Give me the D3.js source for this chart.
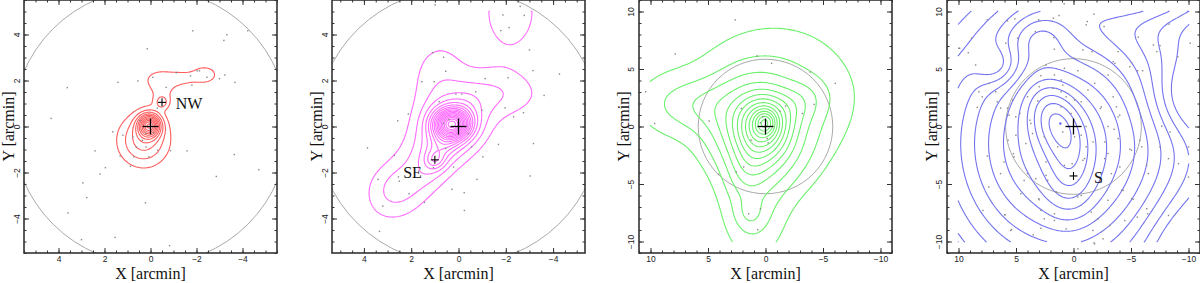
<!DOCTYPE html>
<html>
<head>
<meta charset="utf-8">
<script src="https://cdn.jsdelivr.net/npm/d3@7"></script>
<style>
  body { margin: 0; background: #fff; }
  svg { display: block; }
</style>
</head>
<body>
<script>
// ---------------- data (arcmin) ----------------
// density components: [x, y, sigmaU, sigmaV, angleDeg, amplitude]
const comps1 = [
  [0.05, 0.05, 0.32, 0.33, 0, 9],
  [0.3, -0.6, 0.74, 0.76, 0, 3.5],
  [-0.5, 1.05, 0.2, 0.2, 0, 2.0],
  [-0.5, 1.75, 0.5, 0.55, 0, 1.35],
  [-0.25, 2.05, 0.35, 0.22, 0, 0.7],
  [-1.3, 2.1, 0.45, 0.22, 0, 1.25],
  [-2.35, 2.25, 0.48, 0.33, 0, 1.5]
];
const levels1 = [1, 2, 3, 4, 5, 6, 7, 8, 9, 10, 11, 12];

const comps2 = [
  [0.28, 0.12, 0.5, 0.42, 0, 11],
  [0.3, 0.1, 0.9, 0.8, 0, 2.5],
  [0.9, -0.9, 2.1, 0.85, -50, 2.6],
  [1.0, -1.45, 0.28, 0.28, 0, 2.0],
  [0.6, -0.7, 1.1, 0.4, -62, 2.0],
  [0.8, 2.0, 0.9, 1.35, 0, 1.55],
  [-1.9, 1.4, 1.25, 0.75, 0, 1.45],
  [2.8, -2.8, 0.8, 0.8, 0, 1.3],
  [-2.2, 5.0, 0.93, 1.34, 0, 1.6]
];
const levels2 = [1, 2, 3, 4, 5, 6, 7, 8, 9, 10, 11, 12, 13, 14, 15, 16, 17, 18];

const comps3 = [
  [0.0, 0.35, 0.6, 0.7, 0, 3],
  [0.2, 0.2, 1.4, 1.6, 0, 5],
  [0.8, -0.8, 2.6, 3.2, -25, 4.5],
  [-1.0, 2.5, 5.0, 4.5, 0, 2.4],
  [-2.8, 2.0, 1.8, 1.2, -20, 1.2],
  [1.5, -3.5, 1.2, 2.0, 20, 1.2],
  [8.5, 2.0, 2.5, 2.1, 0, 1.4],
  [5.5, 1.8, 2.0, 1.5, 0, 0.8],
  [1.0, -8.0, 2.0, 3.0, 0, 1.8],
  [1.4, -7.6, 0.9, 1.0, 0, 1.0]
];
const levels3 = [1, 2, 3, 4, 5, 6, 7, 8, 9, 10, 11, 12, 13, 14, 15, 16, 17];

const comps4 = [
  [1.5, 0.5, 1.5, 2.4, -25, 3.5],
  [1.0, -1.5, 8.0, 9.0, 0, 11],
  [0.3, -4.5, 1.5, 2.5, 0, 1.8],
  [-10.5, 2.5, 2.5, 2.2, 0, -2.5],
  [-6.5, 12.0, 5.0, 1.8, 0, 5],
  [6.7, 5.3, 1.3, 1.2, 0, -2],
  [3.0, 8.0, 1.8, 1.5, 0, 2],
  [-10.5, -10.5, 3.0, 3.0, 0, -2]
];
const levels4 = [3, 4, 5, 6, 7, 8, 9, 10, 11, 12, 13, 14];

// galaxies
const dots1 = [[-1.84,4.16],[-3.32,3.99],[-4.23,4.16],[0.14,3.38],[-3.19,3.74],[1.42,1.92],[0.55,1.98],[-0.1,2.14],[-0.68,1.70],[-1.12,2.34],[-1.74,2.2],[-2.03,2.42],[-2.13,2.42],[-2.45,2.14],[-1.8,1.8],[-3.0,2.08],[-3.23,2.24],[-3.67,1.92],[3.62,1.69],[4.32,0.35],[1.64,-0.23],[1.2,-0.38],[0.77,-0.45],[-0.14,-0.28],[0.19,-0.89],[0.62,-0.89],[-0.32,-1.03],[-0.87,-1.05],[-1.59,-1.06],[2.41,-1.06],[1.32,-1.28],[0.72,-1.32],[0.07,-1.32],[0.87,-1.73],[1.96,-1.79],[2.19,-2.07],[-3.64,-1.22],[-4.71,-1.88],[-2.86,-2.17],[2.94,-2.45],[2.77,-3.09],[0.22,-3.32],[3.59,-3.76],[1.54,-4.82],[3.0,-4.92],[-0.83,-5.18],[0.45,0.25],[0.2,-0.3],[0.35,-0.6],[-0.3,0.8]];
const dots2 = [[0.99,5.29],[-1.88,4.85],[-2.78,4.83],[-1.79,4.17],[-2.14,4.3],[-2.61,5.22],[-3.0,3.33],[1.09,3.21],[0.63,3.01],[0.54,2.4],[-3.15,2.43],[-4.27,2.28],[1.55,1.95],[1.03,1.95],[-1.13,2.08],[-2.1,2.12],[-3.62,1.35],[0.11,1.41],[-0.14,1.41],[-0.73,1.51],[0.82,1.08],[-0.99,0.71],[-1.97,0.81],[-2.33,0.42],[-2.75,0.6],[2.12,0.54],[2.57,0.25],[0.63,0.13],[0.4,0.3],[-0.42,-0.31],[-0.56,-0.89],[-1.69,-0.78],[-3.17,-0.74],[3.85,-0.93],[-1.03,-1.32],[2.71,-1.26],[0.54,-0.96],[1.06,-1.79],[0.21,-1.76],[-3.03,-2.15],[-0.78,-2.3],[2.54,-2.19],[2.5,-2.38],[3.4,-2.3],[2.09,-2.92],[0.28,-2.73],[-0.24,-2.88],[1.44,-3.3],[3.2,-3.46],[-0.25,-3.65],[3.34,-4.56]];
const dots3 = [[2.63,9.27],[7.85,6.31],[0.73,6.13],[-0.53,5.49],[-3.88,4.74],[-6.07,3.75],[10.42,3.02],[-4.23,1.92],[9.64,0.26],[4.9,0.47],[2.1,1.57],[-1.75,1.77],[-1.26,1.34],[-3.21,1.13],[0.23,0.84],[0.44,0.32],[-0.15,-1.05],[-0.23,-1.42],[1.26,-1.19],[1.9,-3.52],[2.54,-3.95],[4.09,-4.16],[1.46,-7.59],[0.44,-7.15],[0.67,-8.98]];
const dots4 = [[7.49,9.28],[8.86,7.68],[9.97,6.8],[9.15,6.42],[5.74,9.19],[5.1,9.36],[3.03,9.28],[1.75,9.42],[1.25,9.65],[0.81,10.67],[3.32,8.25],[4.86,7.68],[1.71,7.73],[5.89,7.24],[1.66,6.72],[8.51,5.35],[7.34,3.75],[8.22,3.02],[6.76,3.02],[7.93,2.58],[8.37,1.66],[5.3,2.3],[6.33,1.6],[5.74,1.6],[5.6,0.99],[2.83,4.42],[2.39,5.35],[1.08,4.04],[0.79,5.06],[1.8,3.32],[0.93,3.6],[0.64,2.58],[1.08,1.71],[3.11,2.23],[4.66,1.13],[3.79,0.55],[0.2,1.13],
  [-1.78,9.77],[-1.2,9.13],[-1.11,8.84],[-2.66,8.69],[-8.31,8.9],[-5.63,7.77],[-3.88,6.51],[-6.95,7.09],[-7.52,7.03],[-7.24,6.51],[-9.07,6.07],[-10.15,7.24],[-1.61,6.51],[-3.45,5.64],[-5.05,5.55],[-4.9,5.2],[-5.57,4.85],[-6.01,4.85],[-10.88,4.1],[-0.38,4.85],[-1.84,3.75],[-3.01,4.48],[-3.45,2.58],[-3.74,1.71],[-2.42,1.71],[-4.02,0.99],[-7.67,0.03],[-0.67,2.15],
  [7.49,-2.57],[7.87,-7.3],[5.98,-7.68],[5.39,-8.96],[3.5,-9.42],[2.83,-8.85],[2.54,-8.03],[2.39,-4.25],[1.51,-5.71],[0.79,-3.38],[3.03,-6.28],[1.66,-7.59],[0.64,-8.9],[5.01,-0.76],[4.14,-1.48],[2.39,-3.09],[0.93,-0.47],[5.22,-2.36],[4.29,-4.69],[6.04,-3.09],
  [-0.67,-0.76],[-1.7,-1.34],[-3.53,-0.24],[-3.88,-1.05],[-4.9,-1.98],[-5.77,-1.2],[-7.52,-1.78],[-8.4,-0.47],[-10.0,-1.78],[-9.13,-3.23],[-10.0,-4.4],[-4.32,-5.56],[-5.2,-6.34],[-6.45,-7.59],[-8.26,-7.74],[-4.46,-8.18],[-3.15,-8.61],[-2.57,-9.77],[-1.78,-10.12],[-2.71,-2.79],[-0.67,-6.0],[-1.55,-7.45],[-0.96,-2.79],[-6.36,-3.38],
  [6.63,2.15],[4.0,2.59],[2.98,3.46],[3.71,0.26],[3.56,-0.61],[2.54,-0.9],[1.37,-1.77],[-0.09,-0.9],[-1.1,0],[-1.1,-1.77],[-3.0,0],[-3.88,0.84],[-2.72,-1.34],[-3.0,-2.35],[-4.03,-3.52],[-4.18,-5.55],[-5.05,-6.28],[-6.51,-4.1],[-5.93,-1.77],[-8.26,-2.79],[-6.37,-7.15],[-5.55,-7.88],[-3.0,-6.42],[-2.13,-8.02],[-1.69,-9.04],[-1.84,-10.2],[-0.38,-10.64],[5.46,-9.04],[5.96,-7.67],[4.58,-5.84],[2.98,-6.37],[3.27,-4.53],[2.25,-4.68],[1.52,-5.7],[0.12,-3.23],[-0.82,-2.94],[5.17,-2.65],[5.69,-1.19],[5.02,0.84],[2.83,-7.3],[1.66,-8.17],[-0.38,-6.13],[4.0,-4.1],[6.34,-4.1],[7.36,-5.26],[-3.3,-4.1],[-2.42,-4.83],[-5.05,-2.06],[-0.09,2.3],[-1.26,3.17],[-2.34,1.57],[1.66,4.48],[1.08,3.02],[-0.09,5.93],[-0.82,6.66],[-3.6,5.49],[9.9,6.8]];
const blueDots4 = [[1.14, 0.26]];

// markers: [x, y, big?]
const crosses1 = [[0, 0, 1], [-0.5, 1.05, 0]];
const crosses2 = [[0, 0, 1], [1.0, -1.45, 0]];
const crosses3 = [[0, 0, 1]];
const crosses4 = [[0, 0, 1], [0, -4.3, 0]];
const names1 = [["NW", -1.1, 1.02]];
const names2 = [["SE", 2.34, -2.0]];
const names3 = [];
const names4 = [["S", -1.78, -4.42]];

const circleR = [6.0, 6.0, 5.85, 5.9];
const majorSmall = [-4, -2, 0, 2, 4];
const majorLarge = [-10, -5, 0, 5, 10];

// ---------------- layout ----------------
const W = 1200, H = 283, S = 253;
const panels = [
  { left: 24, xd: [5.5, -5.5], yd: [-5.5, 5.5], grid: [-5, 5], comps: comps1, levels: levels1, color: "#ff5c5c",
    dots: dots1, crosses: crosses1, names: names1, major: majorSmall, minor: d3.range(-5.5, 5.51, 0.5), r: circleR[0], lab: 4 },
  { left: 332, xd: [5.35, -5.35], yd: [-5.5, 5.5], grid: [-5, 5], comps: comps2, levels: levels2, color: "#ff6cff",
    dots: dots2, crosses: crosses2, names: names2, major: majorSmall, minor: d3.range(-5, 5.01, 0.5), r: circleR[1], lab: 4 },
  { left: 639, xd: [11, -11], yd: [-11, 11], grid: [-10, 10], comps: comps3, levels: levels3, color: "#6cf06c",
    dots: dots3, crosses: crosses3, names: names3, major: majorLarge, minor: d3.range(-11, 11.01, 1), r: circleR[2], lab: 5 },
  { left: 947, xd: [11, -11], yd: [-11, 11], grid: [-10, 10], comps: comps4, levels: levels4, color: "#7474f0",
    dots: dots4, crosses: crosses4, names: names4, major: majorLarge, minor: d3.range(-11, 11.01, 1), r: circleR[3], lab: 5 }
];

const svg = d3.select("body").append("svg").attr("width", W).attr("height", H);

function field(comps, x, y) {
  let v = 0;
  for (const [cx, cy, su, sv, ang, a] of comps) {
    const t = ang * Math.PI / 180, c = Math.cos(t), s = Math.sin(t);
    const dx = x - cx, dy = y - cy;
    const u = dx * c + dy * s, w = -dx * s + dy * c;
    v += a * Math.exp(-0.5 * (u * u / (su * su) + w * w / (sv * sv)));
  }
  return v;
}

// split a closed ring where it runs along the grid border, so open contours stay open
function splitRing(ring, n) {
  const onEdge = (a, b) => (a[0] <= 0 && b[0] <= 0) || (a[0] >= n && b[0] >= n) ||
                           (a[1] <= 0 && b[1] <= 0) || (a[1] >= n && b[1] >= n);
  const m = ring.length - 1;
  let start = -1;
  for (let k = 0; k < m; k++) if (onEdge(ring[k], ring[k + 1])) { start = k + 1; break; }
  if (start < 0) return [ring];
  const pieces = [];
  let cur = [ring[start % m]];
  for (let t = 0; t < m; t++) {
    const a = ring[(start + t) % m], b = ring[(start + t + 1) % m];
    if (onEdge(a, b)) { if (cur.length > 1) pieces.push(cur); cur = [b]; }
    else cur.push(b);
  }
  if (cur.length > 1) pieces.push(cur);
  return pieces;
}

panels.forEach((p, idx) => {
  const x = d3.scaleLinear().domain(p.xd).range([0, S]);
  const y = d3.scaleLinear().domain(p.yd).range([S, 0]);
  const g = svg.append("g").attr("transform", `translate(${p.left},0)`);

  g.append("clipPath").attr("id", "clip" + idx)
    .append("rect").attr("width", S).attr("height", S);
  const plot = g.append("g").attr("clip-path", `url(#clip${idx})`);

  // field circle
  plot.append("ellipse")
    .attr("cx", x(0)).attr("cy", y(0))
    .attr("rx", Math.abs(x(p.r) - x(0))).attr("ry", Math.abs(y(p.r) - y(0)))
    .attr("fill", "none").attr("stroke", "#aaa").attr("stroke-width", 1);

  // contours
  const n = 181;
  const [g0, g1] = p.grid;
  const step = (g1 - g0) / (n - 1);
  const values = new Float64Array(n * n);
  for (let j = 0; j < n; j++)
    for (let i = 0; i < n; i++)
      values[j * n + i] = field(p.comps, g0 + i * step, g0 + j * step);
  const toData = c => g0 + (c - 0.5) * step;
  const line = d3.line().x(d => x(toData(d[0]))).y(d => y(toData(d[1])));
  const contours = d3.contours().size([n, n]).thresholds(p.levels)(values);
  const pieces = [];
  contours.forEach(c => c.coordinates.forEach(poly => poly.forEach(ring => {
    splitRing(ring, n).forEach(pc => pieces.push(pc));
  })));
  plot.append("g").selectAll("path").data(pieces).join("path")
    .attr("d", line)
    .attr("fill", "none").attr("stroke", p.color).attr("stroke-width", 1.1);

  // galaxies
  plot.append("g").selectAll("rect").data(p.dots).join("rect")
    .attr("x", d => x(d[0]) - 0.7).attr("y", d => y(d[1]) - 0.7)
    .attr("width", 1.4).attr("height", 1.4).attr("fill", "#888");
  if (idx === 3) {
    plot.append("g").selectAll("rect").data(blueDots4).join("rect")
      .attr("x", d => x(d[0]) - 1).attr("y", d => y(d[1]) - 1)
      .attr("width", 2).attr("height", 2).attr("fill", "#4444ff");
  }

  // crosses
  const cr = plot.append("g").attr("stroke", "#000");
  p.crosses.forEach(([cx, cy, big]) => {
    const a = big ? 8 : 4;
    cr.append("line").attr("x1", x(cx) - a).attr("x2", x(cx) + a).attr("y1", y(cy)).attr("y2", y(cy))
      .attr("stroke-width", big ? 1.3 : 1.1);
    cr.append("line").attr("x1", x(cx)).attr("x2", x(cx)).attr("y1", y(cy) - a).attr("y2", y(cy) + a)
      .attr("stroke-width", big ? 1.3 : 1.1);
  });

  // names
  g.selectAll("text.name").data(p.names).join("text").attr("class", "name")
    .attr("x", d => x(d[1])).attr("y", d => y(d[2]))
    .attr("dy", "0.35em")
    .attr("font-family", "Liberation Serif, Times New Roman, serif").attr("font-size", 16)
    .attr("fill", "#111").text(d => d[0]);

  // axes, ticks pointing inward on all sides
  const tickCol = "#333";
  const put = (axis, tr) => {
    const a = g.append("g").attr("transform", tr).call(axis);
    a.select(".domain").remove();
    a.selectAll("line").attr("stroke", tickCol);
    a.selectAll("text").attr("font-family", "Liberation Sans, Arial, sans-serif")
      .attr("font-size", 8.5).attr("fill", "#222");
    return a;
  };
  put(d3.axisBottom(x).tickValues(p.minor).tickSize(-2.5).tickFormat(""), `translate(0,${S})`);
  put(d3.axisBottom(x).tickValues(p.major).tickSize(-5).tickPadding(2.5), `translate(0,${S})`);
  put(d3.axisTop(x).tickValues(p.minor).tickSize(-2.5).tickFormat(""), "translate(0,0)");
  put(d3.axisTop(x).tickValues(p.major).tickSize(-5).tickFormat(""), "translate(0,0)");
  put(d3.axisRight(y).tickValues(p.minor).tickSize(-2.5).tickFormat(""), `translate(${S},0)`);
  put(d3.axisRight(y).tickValues(p.major).tickSize(-5).tickFormat(""), `translate(${S},0)`);
  put(d3.axisLeft(y).tickValues(p.minor).tickSize(-2.5).tickFormat(""), "translate(0,0)");
  const ly = put(d3.axisLeft(y).tickValues(p.major).tickSize(-5), "translate(0,0)");
  ly.selectAll("text")
    .attr("transform", "rotate(-90)")
    .attr("x", 0).attr("y", -p.lab).attr("dy", 0)
    .attr("text-anchor", "middle");

  // frame
  g.append("rect").attr("width", S).attr("height", S)
    .attr("fill", "none").attr("stroke", "#333").attr("stroke-width", 1.6);

  // axis titles
  g.append("text")
    .attr("x", S / 2).attr("y", 278.5)
    .attr("text-anchor", "middle")
    .attr("font-family", "Liberation Serif, Times New Roman, serif").attr("font-size", 16)
    .attr("fill", "#111").text("X [arcmin]");
  g.append("text")
    .attr("transform", `translate(-10,${S / 2}) rotate(-90)`)
    .attr("text-anchor", "middle")
    .attr("font-family", "Liberation Serif, Times New Roman, serif").attr("font-size", 16)
    .attr("fill", "#111").text("Y [arcmin]");
});
</script>
</body>
</html>
